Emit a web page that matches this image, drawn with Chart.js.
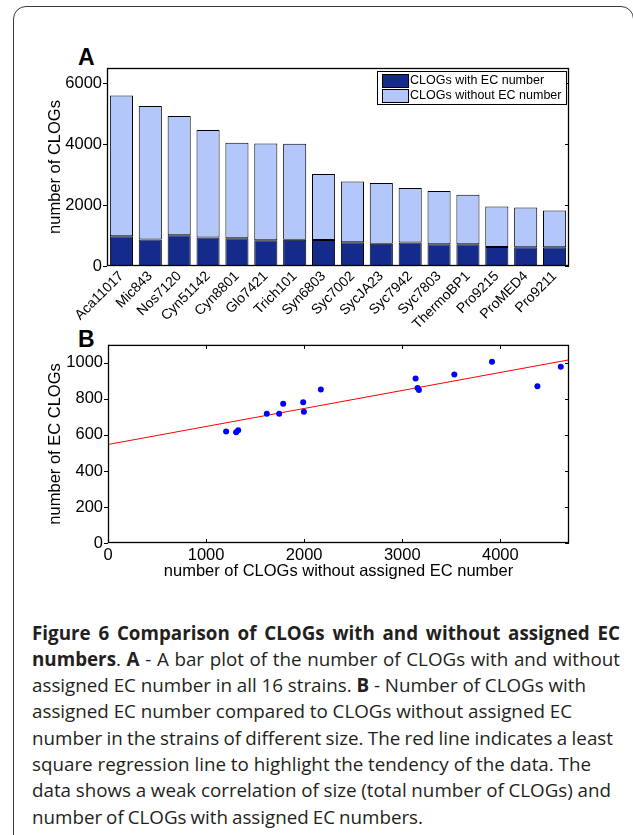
<!DOCTYPE html>
<html>
<head>
<meta charset="utf-8">
<script src="https://cdn.jsdelivr.net/npm/chart.js@4.4.1/dist/chart.umd.min.js"></script>
<style>
  body { margin: 0; background: #fff; width: 633px; height: 835px; overflow: hidden; position: relative; }
  #frame { position: absolute; left: 13px; top: 6px; width: 619px; height: 900px; border: 1.5px solid #3a3a3a; border-radius: 13px; }
  .panel { position: absolute; font: bold 23px "Liberation Sans", Arial, sans-serif; line-height: 1; color: #000; }
  #cA { position: absolute; left: 20px; top: 40px; }
  #cB { position: absolute; left: 20px; top: 330px; }
  #caption { position: absolute; left: 32px; top: 619.5px; font-family: "Open Sans", sans-serif; font-size: 18.8px;
             line-height: 26.3px; color: #231f20; white-space: nowrap; }
  #caption span { display: inline-block; }
</style>
</head>
<body>
<div id="frame"></div>
<div class="panel" style="left:78px;top:46px">A</div>
<div class="panel" style="left:78px;top:328px">B</div>
<canvas id="cA" width="580" height="300"></canvas>
<canvas id="cB" width="580" height="260"></canvas>
<div id="caption">
<div><span class="ln"><b>Figure 6 Comparison of CLOGs with and without assigned EC</b></span></div>
<div><span class="ln"><b>numbers</b>. <b>A</b> - A bar plot of the number of CLOGs with and without</span></div>
<div><span class="ln">assigned EC number in all 16 strains. <b>B</b> - Number of CLOGs with</span></div>
<div><span class="ln">assigned EC number compared to CLOGs without assigned EC</span></div>
<div><span class="ln">number in the strains of different size. The red line indicates a least</span></div>
<div><span class="ln">square regression line to highlight the tendency of the data. The</span></div>
<div><span class="ln">data shows a weak correlation of size (total number of CLOGs) and</span></div>
<div><span class="ln">number of CLOGs with assigned EC numbers.</span></div>
</div>
<script>
// strains, in the order of the bar plot
const categories = ["Aca11017", "Mic843", "Nos7120", "Cyn51142", "Cyn8801", "Glo7421", "Trich101", "Syn6803",
                    "Syc7002", "SycJA23", "Syc7942", "Syc7803", "ThermoBP1", "Pro9215", "ProMED4", "Pro9211"];
const withEC    = [978, 871, 1007, 936, 913, 849, 860, 853, 781, 729, 773, 718, 718, 626, 615, 619];
const withoutEC = [4616, 4378, 3915, 3531, 3136, 3170, 3156, 2170, 1990, 1997, 1786, 1745, 1619, 1327, 1306, 1204];

const yTicksA = [0, 2000, 4000, 6000];
const xTicksB = [0, 1000, 2000, 3000, 4000];
const yTicksB = [0, 200, 400, 600, 800, 1000];

// least square line
const fitX = [0, 4700];
const fitY = [547, 1017];

const labelFont = { family: "Liberation Sans, Arial, sans-serif", size: 16.5 };
Chart.defaults.color = "#000";
Chart.defaults.font.family = "Liberation Sans, Arial, sans-serif";

// box around the plot plus the tick marks matlab style
const boxPlugin = {
    id: "box",
    afterDraw(chart) {
        const ctx = chart.ctx;
        const a = chart.chartArea;
        const xs = chart.scales.x, ys = chart.scales.y;
        ctx.save();
        ctx.strokeStyle = "#000";
        ctx.lineWidth = 1;
        ctx.beginPath();
        ys.ticks.forEach(t => {
            const y = Math.round(ys.getPixelForValue(t.value)) + 0.5;
            ctx.moveTo(a.left - 4, y); ctx.lineTo(a.left, y);
            ctx.moveTo(a.right, y); ctx.lineTo(a.right - 4, y);
        });
        if (xs.type === "linear") {
            xs.ticks.forEach(t => {
                const x = Math.round(xs.getPixelForValue(t.value)) + 0.5;
                ctx.moveTo(x, a.bottom); ctx.lineTo(x, a.bottom - 4);
                ctx.moveTo(x, a.top); ctx.lineTo(x, a.top + 4);
            });
        }
        ctx.stroke();
        ctx.lineWidth = 1.3;
        ctx.strokeRect(a.left + 0.5, a.top + 0.5, a.right - a.left - 1, a.bottom - a.top - 1);
        ctx.restore();
    }
};

// legend box inside the top right corner
const legendPlugin = {
    id: "boxLegend",
    afterDraw(chart) {
        const ctx = chart.ctx;
        const a = chart.chartArea;
        const w = 189, h = 33;
        const x0 = a.right - 3 - w, y0 = a.top + 3;
        ctx.save();
        ctx.fillStyle = "#fff";
        ctx.fillRect(x0, y0, w, h);
        ctx.strokeStyle = "#000";
        ctx.lineWidth = 1;
        ctx.strokeRect(x0 + 0.5, y0 + 0.5, w, h);
        ctx.font = "12.5px Liberation Sans, Arial, sans-serif";
        ctx.textBaseline = "middle";
        chart.data.datasets.forEach((ds, i) => {
            const sy = y0 + 3 + i * 15;
            ctx.fillStyle = ds.backgroundColor;
            ctx.fillRect(x0 + 5, sy, 26, 13);
            ctx.strokeRect(x0 + 5.5, sy + 0.5, 26, 13);
            ctx.fillStyle = "#000";
            ctx.fillText(ds.label, x0 + 33, sy + 7);
        });
        ctx.restore();
    }
};

const plain = v => String(v);

new Chart(document.getElementById("cA"), {
    type: "bar",
    data: {
        labels: categories,
        datasets: [
            { label: "CLOGs with EC number", data: withEC, backgroundColor: "#142b8c",
              borderColor: "#000", borderWidth: 1, borderSkipped: false },
            { label: "CLOGs without EC number", data: withoutEC, backgroundColor: "#b3c7fa",
              borderColor: "#000", borderWidth: 1, borderSkipped: false }
        ]
    },
    options: {
        responsive: false,
        animation: false,
        layout: { padding: { top: 28, right: 31, left: 0, bottom: 0 } },
        plugins: { legend: { display: false }, tooltip: { enabled: false } },
        datasets: { bar: { barPercentage: 0.8, categoryPercentage: 1 } },
        scales: {
            x: {
                stacked: true,
                grid: { display: false, drawTicks: false },
                border: { display: false },
                ticks: { minRotation: 45, maxRotation: 45, autoSkip: false, padding: 2,
                         font: { size: 14 } },
                afterFit(s) { s.height = 74; }
            },
            y: {
                stacked: true,
                min: 0, max: 6500,
                grid: { display: false, drawTicks: false },
                border: { display: false },
                ticks: { padding: 5, font: labelFont, callback: plain },
                afterBuildTicks(s) { s.ticks = yTicksA.map(v => ({ value: v })); },
                title: { display: true, text: "number of CLOGs", font: labelFont, padding: { top: 26, bottom: 0 } },
                afterFit(s) { s.width = 87; }
            }
        }
    },
    plugins: [boxPlugin, legendPlugin]
});

new Chart(document.getElementById("cB"), {
    type: "scatter",
    data: {
        datasets: [
            { data: withoutEC.map((x, i) => ({ x: x, y: withEC[i] })), backgroundColor: "#0000ff",
              borderWidth: 0, pointRadius: 3 },
            { type: "line", data: fitX.map((x, i) => ({ x: x, y: fitY[i] })), borderColor: "#ff0000",
              borderWidth: 1, pointRadius: 0, fill: false }
        ]
    },
    options: {
        responsive: false,
        animation: false,
        layout: { padding: { top: 14, right: 31, left: 0, bottom: 0 } },
        plugins: { legend: { display: false }, tooltip: { enabled: false } },
        scales: {
            x: {
                type: "linear",
                min: 0, max: 4700,
                grid: { display: false, drawTicks: false },
                border: { display: false },
                ticks: { padding: 3, font: labelFont, callback: plain },
                afterBuildTicks(s) { s.ticks = xTicksB.map(v => ({ value: v })); },
                title: { display: true, text: "number of CLOGs without assigned EC number", font: labelFont,
                         padding: { top: 0, bottom: 9 } },
                afterFit(s) { s.height = 47; }
            },
            y: {
                min: 0, max: 1100,
                grid: { display: false, drawTicks: false },
                border: { display: false },
                ticks: { padding: 5, font: labelFont, callback: plain },
                afterBuildTicks(s) { s.ticks = yTicksB.map(v => ({ value: v })); },
                title: { display: true, text: "number of EC CLOGs", font: labelFont, padding: { top: 26, bottom: 0 } },
                afterFit(s) { s.width = 88; }
            }
        }
    },
    plugins: [boxPlugin]
});

// stretch the word gaps so each caption line ends where it does in the figure
const lineRight = [620, 620, 586, 572, 613, 591, 611, 423];
function fitCaption() {
    const left = document.getElementById("caption").getBoundingClientRect().left;
    document.querySelectorAll("#caption .ln").forEach((el, i) => {
        el.style.wordSpacing = "0px";
        const w = el.getBoundingClientRect().width;
        const gaps = (el.textContent.match(/ /g) || []).length;
        if (gaps) el.style.wordSpacing = ((lineRight[i] - left - w) / gaps) + "px";
    });
}
fitCaption();
document.fonts.ready.then(fitCaption);
</script>
</body>
</html>
